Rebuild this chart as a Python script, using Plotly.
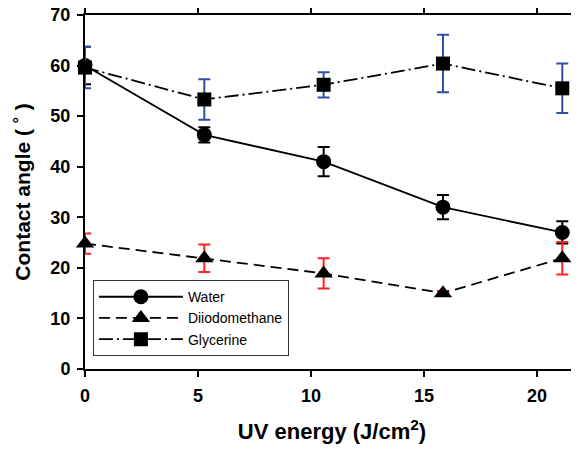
import plotly.graph_objects as go

uv_energy = [0, 5.28, 10.56, 15.84, 21.12]

water = [60.0, 46.3, 41.0, 32.0, 27.0]
water_err = [3.7, 1.5, 2.9, 2.4, 2.2]

diiodomethane = [24.8, 21.9, 18.9, 15.0, 21.9]
diiodomethane_err = [2.0, 2.7, 3.0, 0.4, 3.2]

glycerine = [59.6, 53.3, 56.2, 60.4, 55.5]
glycerine_err = [4.1, 4.0, 2.5, 5.7, 4.9]

x_ticks = [0, 5, 10, 15, 20]
y_ticks = [0, 10, 20, 30, 40, 50, 60, 70]

FONT = "Liberation Sans, Arial, sans-serif"

fig = go.Figure()

fig.add_trace(go.Scatter(
    x=uv_energy, y=water, name="Water", mode="lines+markers",
    line=dict(color="black", width=1.8, dash="solid"),
    marker=dict(symbol="circle", size=15, color="black"),
    error_y=dict(type="data", array=water_err, visible=True,
                 color="black", thickness=2, width=6),
    cliponaxis=False,
))
fig.add_trace(go.Scatter(
    x=uv_energy, y=diiodomethane, name="Diiodomethane", mode="lines+markers",
    line=dict(color="black", width=1.8, dash="11px,6px"),
    marker=dict(symbol="triangle-up", size=16, color="black"),
    error_y=dict(type="data", array=diiodomethane_err, visible=True,
                 color="#ff2020", thickness=2, width=6),
    cliponaxis=False,
))
fig.add_trace(go.Scatter(
    x=uv_energy, y=glycerine, name="Glycerine", mode="lines+markers",
    line=dict(color="black", width=1.8, dash="14px,4px,2px,4px"),
    marker=dict(symbol="square", size=14, color="black"),
    error_y=dict(type="data", array=glycerine_err, visible=True,
                 color="#2f4fa8", thickness=2, width=6),
    cliponaxis=False,
))

fig.update_layout(
    width=571, height=442,
    margin=dict(l=77, r=0, t=7, b=81, autoexpand=False),
    paper_bgcolor="white", plot_bgcolor="white",
    font=dict(family=FONT, color="black"),
    showlegend=True,
    legend=dict(
        x=0.016, y=0.251, xanchor="left", yanchor="top",
        bordercolor="#333333", borderwidth=1, bgcolor="white",
        font=dict(family=FONT, size=14, color="black"),
        itemwidth=84,
        tracegroupgap=0,
    ),
)

fig.update_xaxes(
    range=[0, 21.86], tickvals=x_ticks, automargin=False,
    showline=True, linecolor="black", linewidth=2, mirror="all",
    ticks="outside", ticklen=6, tickwidth=2, tickcolor="black",
    ticklabelstandoff=3, ticklabeloverflow="allow",
    showgrid=False, zeroline=False,
    tickfont=dict(family=FONT, size=18, color="black", weight="bold"),
    title=dict(text="UV energy (J/cm<sup>2</sup>)", standoff=19,
               font=dict(family=FONT, size=22, color="black", weight="bold")),
)
fig.update_yaxes(
    range=[0, 70], tickvals=y_ticks, automargin=False,
    showline=True, linecolor="black", linewidth=2, mirror=False,
    ticks="outside", ticklen=6, tickwidth=2, tickcolor="black",
    ticklabelstandoff=3, ticklabeloverflow="allow",
    showgrid=False, zeroline=False,
    tickfont=dict(family=FONT, size=18, color="black", weight="bold"),
    title=dict(text="Contact angle ( ˚ )", standoff=14,
               font=dict(family=FONT, size=21, color="black", weight="bold")),
)

fig.write_html("out.html")
